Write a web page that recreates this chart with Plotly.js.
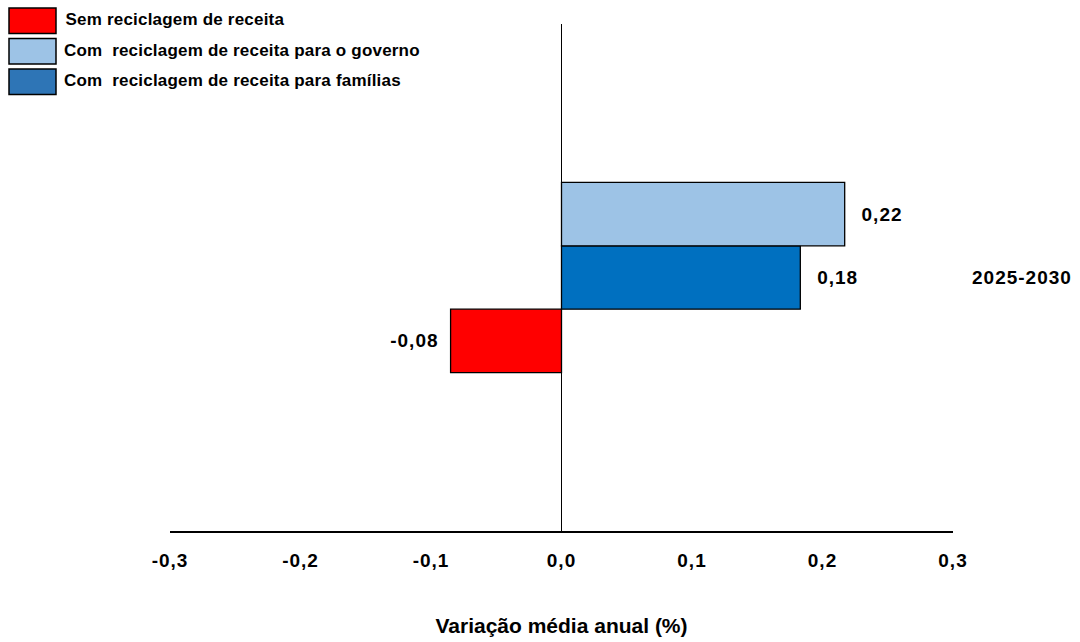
<!DOCTYPE html>
<html>
<head>
<meta charset="utf-8">
<script src="https://cdn.plot.ly/plotly-3.0.1.min.js"></script>
<style>
  html, body { margin: 0; padding: 0; background: #ffffff; }
  #chart { width: 1080px; height: 642px; }
  #chart .xtick text, #chart .ytick text, #chart .bartext { letter-spacing: 1px; }
  #chart .annotation-text { letter-spacing: 0.2px; }
</style>
</head>
<body>
<div id="chart"></div>
<script>
// ---- data ----
const categories = ["2025-2030"];
const seriesNames = [
  "Sem reciclagem de receita",
  "Com reciclagem de receita para famílias",
  "Com reciclagem de receita para o governo"
];
const semReciclagem = [-0.085];
const reciclagemFamilias = [0.183];
const reciclagemGoverno = [0.217];
const labelsSem = ["-0,08"];
const labelsFamilias = ["0,18"];
const labelsGoverno = ["0,22"];
const xTickValues = [-0.3, -0.2, -0.1, 0.0, 0.1, 0.2, 0.3];
const xTickLabels = ["-0,3", "-0,2", "-0,1", "0,0", "0,1", "0,2", "0,3"];
const legendOrder = [
  "Sem reciclagem de receita",
  "Com  reciclagem de receita para o governo",
  "Com  reciclagem de receita para famílias"
];

// ---- styles ----
const barColors = ["#FF0000", "#0070C0", "#9DC3E6"];
const legendColors = ["#FF0000", "#9DC3E6", "#2E75B6"];
const FONT = "'Liberation Sans', Arial, sans-serif";
const PAD_NEG = "\u00a0\u00a0";
const PAD_POS = "\u00a0\u00a0\u2009";

const L = 170, R = 127, T = 24, B = 111, W = 1080, H = 642;
const PW = W - L - R, PH = H - T - B;
const px = v => (v - L) / PW;
const py = v => (H - B - v) / PH;

function barTrace(name, vals, labels, color, neg) {
  return {
    type: "bar",
    orientation: "h",
    name: name,
    x: vals,
    y: categories,
    text: labels.map(t => neg ? t + PAD_NEG : PAD_POS + t),
    textposition: "outside",
    cliponaxis: false,
    textfont: { family: FONT, size: 19, color: "#000000", weight: "bold" },
    marker: { color: color, line: { color: "#000000", width: 1.3 } },
    hoverinfo: "x+name",
    showlegend: false
  };
}

const traces = [
  barTrace(seriesNames[0], semReciclagem, labelsSem, barColors[0], true),
  barTrace(seriesNames[1], reciclagemFamilias, labelsFamilias, barColors[1], false),
  barTrace(seriesNames[2], reciclagemGoverno, labelsGoverno, barColors[2], false)
];

// legend drawn as shapes + annotations
const shapes = [];
const annotations = [];
const legendTops = [8, 38.5, 69];
legendOrder.forEach((name, i) => {
  const top = legendTops[i];
  shapes.push({
    type: "rect", xref: "paper", yref: "paper",
    x0: px(9), x1: px(56), y0: py(top), y1: py(top + 25.5),
    fillcolor: legendColors[i],
    line: { color: "#000000", width: 1.5 }
  });
  annotations.push({
    xref: "paper", yref: "paper",
    x: px(66), y: py(top + 11.5),
    xanchor: "left", yanchor: "middle",
    text: "<b>" + name.replace(/  /g, " \u00a0") + "</b>",
    showarrow: false,
    font: { family: FONT, size: 17, color: "#000000" }
  });
});

const layout = {
  width: W, height: H,
  margin: { l: L, r: R, t: T, b: B, pad: 0 },
  paper_bgcolor: "#ffffff",
  plot_bgcolor: "#ffffff",
  separators: ",.",
  barmode: "group",
  bargap: 0.625,
  bargroupgap: 0,
  showlegend: false,
  font: { family: FONT, size: 16, color: "#000000" },
  xaxis: {
    range: [-0.3, 0.3],
    tickmode: "array",
    tickvals: xTickValues,
    ticktext: xTickLabels,
    ticks: "",
    ticklabelstandoff: 12,
    showgrid: false,
    showline: true,
    linecolor: "#000000",
    linewidth: 1.5,
    zeroline: true,
    zerolinecolor: "#000000",
    zerolinewidth: 1.5,
    tickfont: { family: FONT, size: 19, color: "#000000", weight: "bold" },
    title: {
      text: "<b>Variação média anual (%)</b>",
      font: { family: FONT, size: 21, color: "#000000" },
      standoff: 48
    },
    automargin: false,
    fixedrange: true
  },
  yaxis: {
    type: "category",
    side: "right",
    range: [-0.5, 0.5],
    ticks: "",
    ticklabelstandoff: 18,
    showgrid: false,
    showline: false,
    zeroline: false,
    tickfont: { family: FONT, size: 19, color: "#000000", weight: "bold" },
    automargin: false,
    fixedrange: true
  },
  shapes: shapes,
  annotations: annotations
};

Plotly.newPlot("chart", traces, layout, { displayModeBar: false, staticPlot: true });
</script>
</body>
</html>
